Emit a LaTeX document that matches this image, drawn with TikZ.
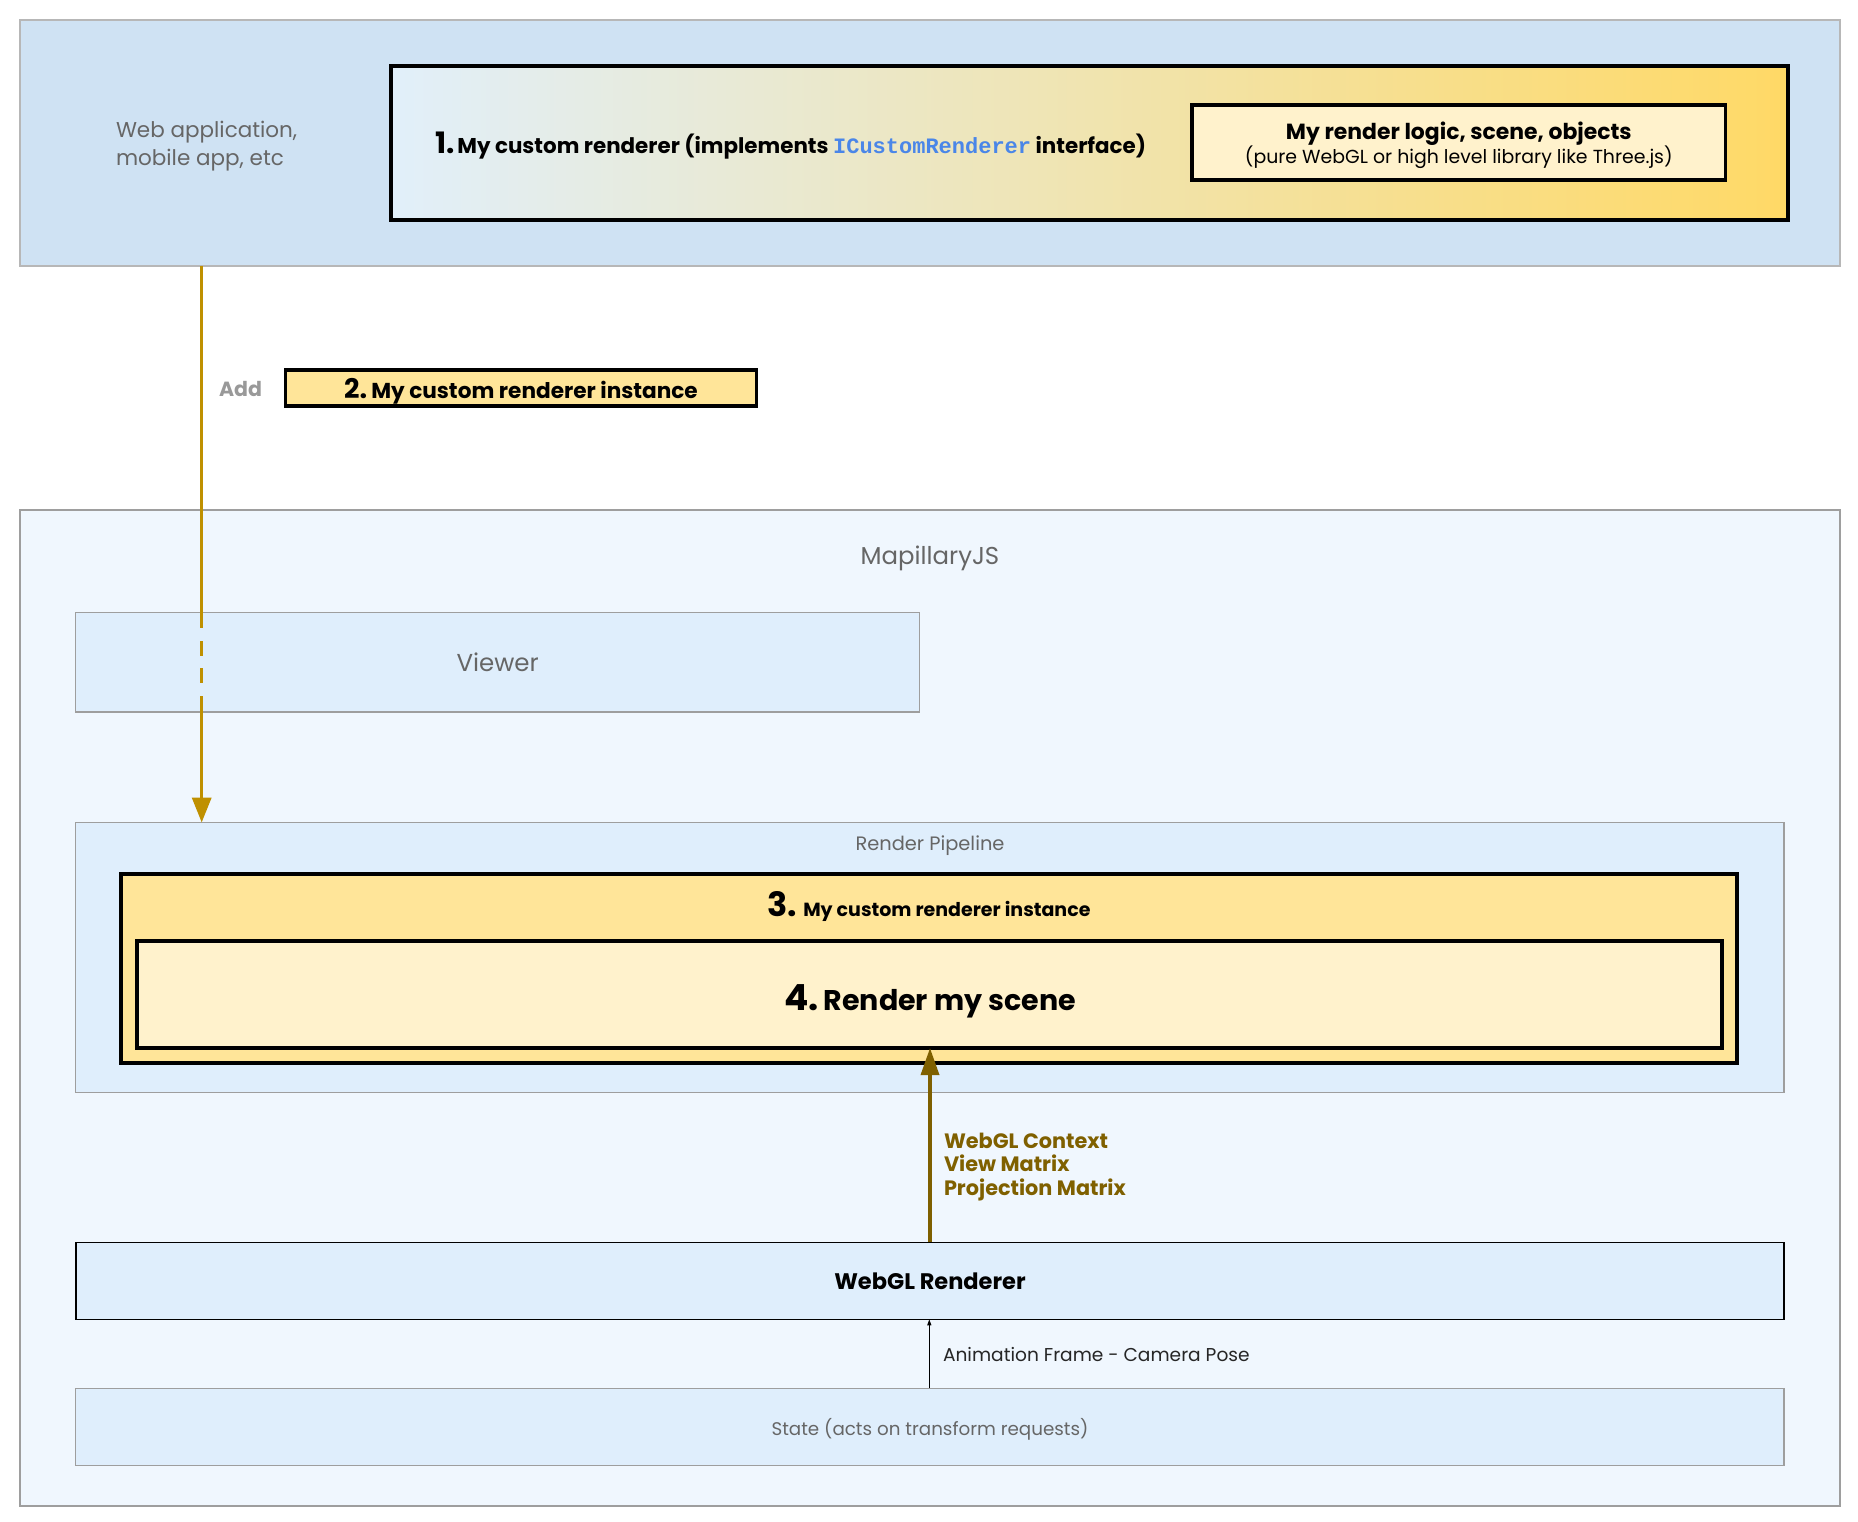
\documentclass[tikz,border=0pt]{standalone}
\usepackage{fontspec}
\setmainfont{Poppins}
\setmonofont{Liberation Mono}
\usetikzlibrary{arrows.meta}
\definecolor{topfill}{HTML}{CFE2F3}
\definecolor{topborder}{HTML}{B7B7B7}
\definecolor{mapfill}{HTML}{F0F7FE}
\definecolor{mapborder}{HTML}{9E9E9E}
\definecolor{boxfill}{HTML}{DFEEFC}
\definecolor{yelA}{HTML}{FFE599}
\definecolor{yelB}{HTML}{FFF2CC}
\definecolor{gradL}{HTML}{E1EFFA}
\definecolor{gradM}{HTML}{F3EAC6}
\definecolor{gradR}{HTML}{FFD966}
\definecolor{gold}{HTML}{BF9000}
\definecolor{darkgold}{HTML}{7F6000}
\definecolor{graytext}{HTML}{666666}
\definecolor{addgray}{HTML}{999999}
\definecolor{codeblue}{HTML}{4A86E8}
\tikzset{
  area/.style={rectangle, anchor=north west, inner sep=0pt, outer sep=0pt},
  thickbox/.style={area, draw=black, line width=4pt},
  lightbox/.style={area, fill=boxfill, draw=mapborder, line width=1.2pt},
  lbl/.style={inner sep=0pt, outer sep=0pt},
}
\newcommand{\fs}[1]{\fontsize{#1}{#1}\selectfont}
\begin{document}
\begin{tikzpicture}[x=1pt,y=-1pt]
\useasboundingbox (0,0) rectangle (1858,1521);
% top region
\node[area, fill=topfill, draw=topborder, line width=1.5pt, minimum width=1820pt, minimum height=246pt] (web) at (20,20) {};
\node[lbl, anchor=west, align=left, text=graytext, font=\fs{21.5}, text depth=0pt] (webtxt) at (116,143.5) {Web application,\\[4.5pt]mobile app, etc};
\node[thickbox, left color=gradL, middle color=gradM, right color=gradR, minimum width=1397.5pt, minimum height=153.7pt] (cr) at (390.5,66) {};
\node[lbl, anchor=base west] (crtxt) at (435,153) {\fs{29.5}\bfseries 1.\hspace{3pt}\fs{21.4}My custom renderer (implements {\ttfamily\fs{22}\color{codeblue}ICustomRenderer} interface)};
\node[thickbox, line width=3.5pt, fill=yelB, minimum width=533.6pt, minimum height=75pt] (logic) at (1192,105) {};
\node[lbl, anchor=base] (logic1) at (1458.8,139) {\fs{21.9}\bfseries My render logic, scene, objects};
\node[lbl, anchor=base] (logic2) at (1458.8,163.5) {\fs{18.9}(pure WebGL or high level library like Three.js)};
% instance 2
\node[thickbox, line width=3.5pt, fill=yelA, minimum width=471pt, minimum height=36pt] (inst) at (285.5,370) {};
\node[lbl, anchor=base] (insttxt) at (521,398) {\fs{27}\bfseries 2.\hspace{4pt}\fs{21.6}My custom renderer instance};
\node[lbl, anchor=base, text=addgray, font=\fs{20.5}\bfseries] (add) at (240.5,396) {Add};
% MapillaryJS
\node[area, fill=mapfill, draw=mapborder, line width=1.2pt, minimum width=1820pt, minimum height=996pt] (map) at (20,510) {};
\node[lbl, anchor=base, text=graytext, font=\fs{24.4}] (maptxt) at (930,564) {MapillaryJS};
\node[lightbox, minimum width=843.8pt, minimum height=99.4pt] (viewer) at (75.8,612.6) {};
\node[lbl, anchor=base, text=graytext, font=\fs{24.5}] (viewertxt) at (497.7,671) {Viewer};
\node[lightbox, minimum width=1708.2pt, minimum height=269.9pt] (pipe) at (75.8,822.5) {};
\node[lbl, anchor=base, text=graytext, font=\fs{19.4}] (pipetxt) at (930,850) {Render Pipeline};
\node[thickbox, fill=yelA, minimum width=1615.8pt, minimum height=189.1pt] (inst3) at (121.2,873.7) {};
\node[lbl, anchor=base] (inst3txt) at (929,916) {\fs{33.5}\bfseries 3.\hspace{6pt}\fs{19}My custom renderer instance};
\node[thickbox, fill=yelB, minimum width=1585pt, minimum height=106.7pt] (scene) at (137,941.3) {};
\node[lbl, anchor=base] (scenetxt) at (930,1010.5) {\fs{36}\bfseries 4.\hspace{5pt}\fs{28.5}Render my scene};
\node[area, fill=boxfill, draw=black, line width=1.5pt, minimum width=1708.2pt, minimum height=77pt] (webgl) at (75.8,1242.3) {};
\node[lbl, anchor=base, font=\fs{22.5}\bfseries] (webgltxt) at (930,1289.5) {WebGL Renderer};
\node[lightbox, minimum width=1708.2pt, minimum height=77pt] (state) at (75.8,1388.3) {};
\node[lbl, anchor=base, text=graytext, font=\fs{18.3}] (statetxt) at (930,1435.5) {State (acts on transform requests)};
% connectors
\draw[gold, line width=3.5pt, dash pattern=on 362pt off 13pt on 15pt off 12pt on 15pt off 13pt on 400pt,
  -{Triangle[length=25pt,width=19pt]}] (web.south -| 201.7,0) -- (pipe.north -| 201.7,0);
\draw[darkgold, line width=3.5pt, -{Triangle[length=27pt,width=18pt]}] (webgl.north -| 930,0) -- (scene.south -| 930,0);
\node[lbl, anchor=base west, text=darkgold, font=\fs{20.8}\bfseries] (ctx1) at (944,1148) {WebGL Context};
\node[lbl, anchor=base west, text=darkgold, font=\fs{20.8}\bfseries] (ctx2) at (944,1171.5) {View Matrix};
\node[lbl, anchor=base west, text=darkgold, font=\fs{20.8}\bfseries] (ctx3) at (944,1195) {Projection Matrix};
\draw[black, line width=1pt, -{Triangle[length=6pt,width=4pt]}] (state.north -| 929.3,0) -- (webgl.south -| 929.3,0);
\node[lbl, anchor=base west, text=black!85, font=\fs{18.6}] (animtxt) at (943,1361.5) {Animation Frame - Camera Pose};
\end{tikzpicture}
\end{document}
